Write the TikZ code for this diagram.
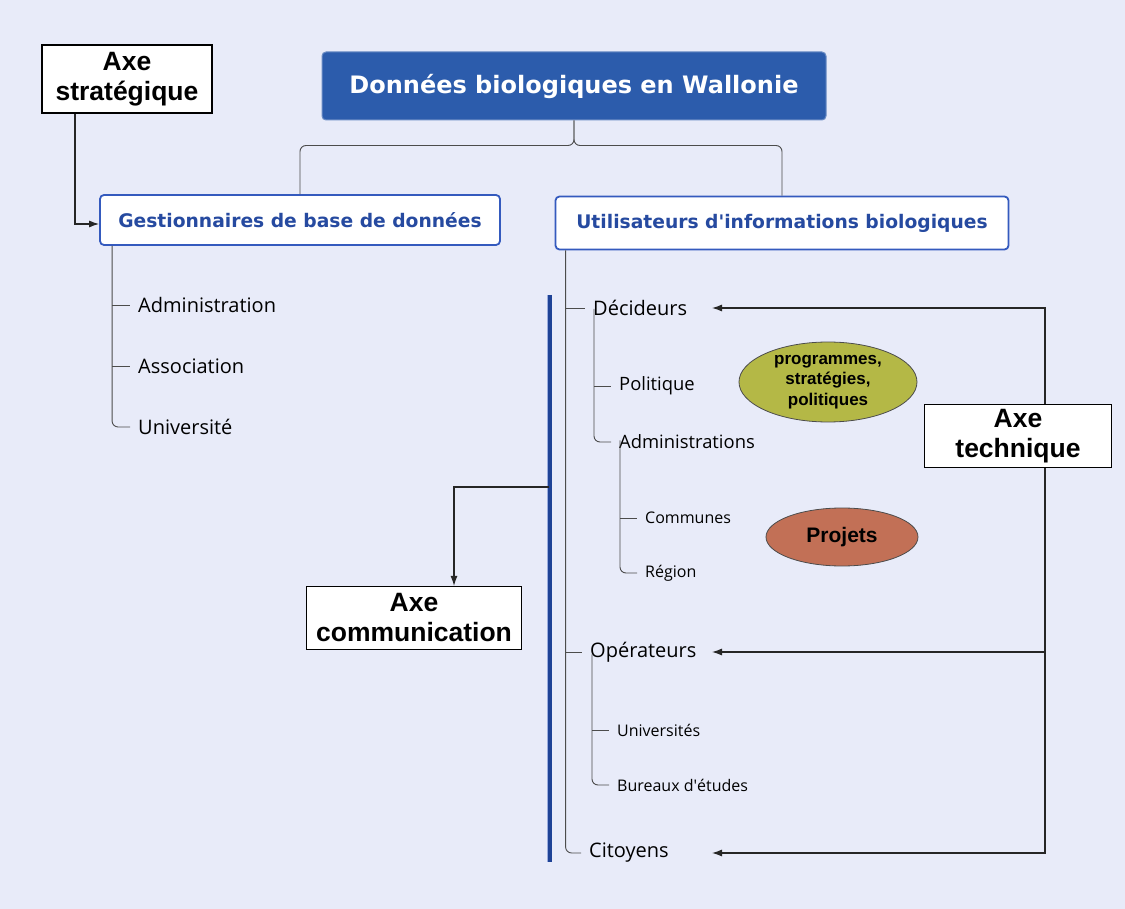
\documentclass[tikz,border=0pt]{standalone}
\usepackage{fontspec}
\setmainfont{Open Sans}
\newfontfamily\axefont{Liberation Sans}
\newfontfamily\titrefont{DejaVu Sans}
\usetikzlibrary{arrows.meta,positioning,calc,shapes.geometric}

\definecolor{fond}{RGB}{232,235,249}
\definecolor{bleutitre}{RGB}{44,92,172}
\definecolor{bleutexte}{RGB}{38,74,160}
\definecolor{bleucadre}{RGB}{52,90,190}
\definecolor{bleubarre}{RGB}{30,66,150}
\definecolor{olive}{RGB}{180,184,70}
\definecolor{brique}{RGB}{194,112,86}

\begin{document}
\begin{tikzpicture}[x=1pt, y=-1pt, >={Latex[length=10pt,width=7pt]},
    axe/.style={draw=black, fill=white, line width=1.2pt, inner sep=2pt, align=center,
        font=\axefont\bfseries\fontsize{26.5}{30}\selectfont},
    groupe/.style={draw=bleucadre, fill=white, line width=1.8pt, rounded corners=4pt,
        text=bleutexte, font=\titrefont\bfseries\fontsize{18.7}{21}\selectfont},
    item/.style={anchor=west, inner sep=0pt, font=\fontsize{20}{23}\selectfont},
    sousitem/.style={item, font=\fontsize{18.4}{21}\selectfont},
    petit/.style={item, font=\fontsize{16}{19}\selectfont},
    arbre/.style={draw=black!70, line width=0.9pt},
    fleche/.style={->, draw=black!85, line width=1.1pt}]
        % Background
        \useasboundingbox (0,0) rectangle (1125,909);
        \fill [fond] (0,0) rectangle (1125,909);
        % Title and groups
        \node [fill=bleutitre, draw=bleutitre!70, line width=1pt, rounded corners=4pt,
            minimum width=504, minimum height=68, text=white,
            font=\titrefont\bfseries\fontsize{24}{28}\selectfont] (titre) at (574,86)
            {Données biologiques en Wallonie};
        \node [groupe, minimum width=400, minimum height=50] (gest) at (300,220)
            {Gestionnaires de base de données};
        \node [groupe, minimum width=453, minimum height=53] (util) at (782,223)
            {Utilisateurs d'informations biologiques};
        \draw [arbre, rounded corners=6pt] (titre.south) -- ++(0,25) -| (gest.north);
        \draw [arbre, rounded corners=6pt] (titre.south) -- ++(0,25) -| (util.north);
        % Axes
        \node [axe, minimum width=170, minimum height=68] (strat) at (127,79)
            {Axe\\stratégique};
        \node [axe, minimum width=215, minimum height=63] (comm) at (414,618)
            {Axe\\communication};
        \node [axe, minimum width=187, minimum height=63] (tech) at (1018,436)
            {Axe\\technique};
        % Gestionnaires
        \node [item] (admin) at (138,305) {Administration};
        \node [item] (assoc) at (138,366) {Association};
        \node [item] (univ) at (138,427) {Université};
        \coordinate (gx) at ([xshift=13]gest.south west);
        \draw [arbre, rounded corners=6pt] (gx) |- ([xshift=-8]univ.west);
        \foreach \n in {admin,assoc}
            \draw [arbre] (gx |- \n.west) -- ([xshift=-8]\n.west);
        % Utilisateurs
        \node [item] (decid) at (593,308) {Décideurs};
        \node [item] (oper) at (590,652) {Opérateurs};
        \node [item] (citoy) at (589,853) {Citoyens};
        \coordinate (ux) at ([xshift=11]util.south west);
        \draw [arbre, rounded corners=6pt] (ux) |- ([xshift=-8]citoy.west);
        \foreach \n in {decid,oper}
            \draw [arbre] (ux |- \n.west) -- ([xshift=-8]\n.west);
        % Decideurs
        \node [sousitem] (polit) at (619,386) {Politique};
        \node [sousitem] (adms) at (619,442) {Administrations};
        \coordinate (dx) at ([xshift=1,yshift=7]decid.south west);
        \draw [arbre, rounded corners=6pt] (dx) |- ([xshift=-8]adms.west);
        \draw [arbre] (dx |- polit.west) -- ([xshift=-8]polit.west);
        \node [petit] (commu) at (645,518) {Communes};
        \node [petit] (region) at (645,573) {Région};
        \coordinate (ax) at ([xshift=1,yshift=9]adms.south west);
        \draw [arbre, rounded corners=6pt] (ax) |- ([xshift=-8]region.west);
        \draw [arbre] (ax |- commu.west) -- ([xshift=-8]commu.west);
        % Operateurs
        \node [petit] (univs) at (617,730) {Universités};
        \node [petit] (bureau) at (617,785) {Bureaux d\textquotesingle études};
        \coordinate (ox) at ([xshift=2,yshift=8]oper.south west);
        \draw [arbre, rounded corners=6pt] (ox) |- ([xshift=-8]bureau.west);
        \draw [arbre] (ox |- univs.west) -- ([xshift=-8]univs.west);
        % Ellipses
        \node [ellipse, fill=olive, draw=black!70, line width=0.8pt, minimum width=178,
            minimum height=80, inner sep=0pt, align=center,
            font=\axefont\bfseries\fontsize{17}{20.5}\selectfont] (progr) at (828,382)
            {programmes,\\stratégies,\\politiques};
        \node [ellipse, fill=brique, draw=black!70, line width=0.8pt, minimum width=152,
            minimum height=58, inner sep=0pt, font=\axefont\bfseries\fontsize{21}{24}\selectfont]
            (projets) at (842,537) {Projets};
        % Blue bar
        \coordinate (bhaut) at (549,295);
        \coordinate (bbas) at (549,862);
        \draw [bleubarre, line width=5pt] (bhaut) -- (bbas);
        \draw [bleucadre!50, line width=1pt] ([xshift=-2]bhaut) -- ([xshift=-2]bbas);
        % Connectors of the axes
        \draw [fleche] ([xshift=-52]strat.south) |- ([yshift=-4]gest.west);
        \coordinate (bcomm) at (549,487);
        \draw [fleche] (bcomm) -| ([xshift=40]comm.north);
        \coordinate (tx) at (1045,0);
        \coordinate (pointe) at (712,0);
        \draw [fleche] (tech.north -| tx) |- (decid -| pointe);
        \draw [fleche] (tech.south -| tx) |- (citoy -| pointe);
        \draw [fleche] (tx |- oper) -- (oper -| pointe);
\end{tikzpicture}
\end{document}
